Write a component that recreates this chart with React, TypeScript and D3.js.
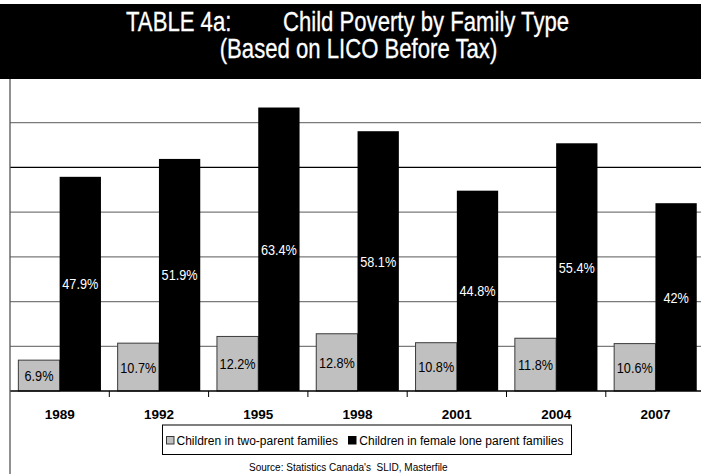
import React from "react";
import * as d3 from "d3";

const years = ["1989", "1992", "1995", "1998", "2001", "2004", "2007"];
const twoParent = [6.9, 10.7, 12.2, 12.8, 10.8, 11.8, 10.6];
const loneParent = [47.9, 51.9, 63.4, 58.1, 44.8, 55.4, 42];
const loneLabels = ["47.9%", "51.9%", "63.4%", "58.1%", "44.8%", "55.4%", "42%"];
const twoLabels = ["6.9%", "10.7%", "12.2%", "12.8%", "10.8%", "11.8%", "10.6%"];
const gridTicks = [10, 20, 30, 40, 50, 60, 70];
const seriesNames = ["Children in two-parent families", "Children in female lone parent families"];

const W = 701;
const H = 474;
const arial = "'Liberation Sans', Arial, sans-serif";
const SQ = 0.82;

function Narrow(props: {
  x: number;
  y: number;
  size: number;
  fill: string;
  anchor?: "start" | "middle" | "end";
  bold?: number;
  children: React.ReactNode;
}) {
  return (
    <g transform={`translate(${props.x},${props.y}) scale(${SQ},1)`}>
      <text
        x={0}
        y={0}
        textAnchor={props.anchor || "start"}
        fontFamily={arial}
        fontSize={props.size}
        fill={props.fill}
        stroke={props.bold ? props.fill : "none"}
        strokeWidth={props.bold || 0}
      >
        {props.children}
      </text>
    </g>
  );
}

export default function App() {
  const band = 99.3;
  const x = d3
    .scaleBand<string>()
    .domain(years)
    .range([10, 10 + band * years.length])
    .paddingInner(0)
    .paddingOuter(0);
  const y = d3.scaleLinear().domain([0, 70]).range([391, 78]);
  const barW = 41.3;
  const off = (band - 2 * barW) / 2;

  return (
    <svg
      width={W}
      height={H}
      style={{ position: "absolute", left: 0, top: 0, background: "#fff" }}
    >
      {/* gridlines */}
      {gridTicks.map((t) => (
        <line
          key={t}
          x1={10}
          x2={W}
          y1={y(t)}
          y2={y(t)}
          stroke={t === 50 ? "#000" : "#7a7a7a"}
          strokeWidth={1.3}
        />
      ))}
      {/* bars */}
      {years.map((yr, i) => {
        const x0 = (x(yr) as number) + off;
        return (
          <g key={yr}>
            <rect
              x={x0}
              y={y(twoParent[i])}
              width={barW}
              height={y(0) - y(twoParent[i])}
              fill="#c0c0c0"
              stroke="#3a3a3a"
              strokeWidth={1}
            />
            <rect
              x={x0 + barW}
              y={y(loneParent[i])}
              width={barW}
              height={y(0) - y(loneParent[i])}
              fill="#000"
            />
            <Narrow
              x={x0 + barW / 2}
              y={(y(twoParent[i]) + y(0)) / 2 + 5.5}
              anchor="middle"
              size={15.5}
              fill="#000"
            >
              {twoLabels[i]}
            </Narrow>
            <Narrow
              x={x0 + barW * 1.5}
              y={(y(loneParent[i]) + y(0)) / 2 + 5.5}
              anchor="middle"
              size={15.5}
              fill="#fff"
            >
              {loneLabels[i]}
            </Narrow>
            <text
              x={(x(yr) as number) + band / 2}
              y={419}
              textAnchor="middle"
              fontFamily={arial}
              fontWeight="bold"
              fontSize={13.5}
              fill="#000"
            >
              {yr}
            </text>
          </g>
        );
      })}
      {/* baseline and ticks */}
      <line x1={10} x2={W} y1={y(0)} y2={y(0)} stroke="#000" strokeWidth={1.3} />
      {years.slice(1).map((yr) => (
        <line
          key={"t" + yr}
          x1={x(yr) as number}
          x2={x(yr) as number}
          y1={y(0)}
          y2={y(0) + 6}
          stroke="#000"
          strokeWidth={1}
        />
      ))}
      {/* left frame line */}
      <line x1={10} x2={10} y1={78} y2={H} stroke="#555" strokeWidth={1.3} />

      {/* title */}
      <rect x={0} y={4} width={W} height={75} fill="#000" />
      <Narrow x={126} y={31} size={27} fill="#fff" bold={0.3}>
        TABLE 4a:
      </Narrow>
      <Narrow x={283} y={31} size={27} fill="#fff" bold={0.3}>
        Child Poverty by Family Type
      </Narrow>
      <Narrow x={358.5} y={57.5} anchor="middle" size={27} fill="#fff" bold={0.3}>
        (Based on LICO Before Tax)
      </Narrow>

      {/* legend */}
      <rect x={162.5} y={425} width={409} height={29.5} fill="#fff" stroke="#000" strokeWidth={1} />
      <rect x={166.5} y={436.5} width={7.5} height={7.5} fill="#c0c0c0" stroke="#3a3a3a" strokeWidth={1} />
      <text x={176.5} y={444.5} fontFamily={arial} fontSize={12} fill="#000">
        {seriesNames[0]}
      </text>
      <rect x={348} y={436} width={8.5} height={8.5} fill="#000" />
      <text x={359.3} y={444.5} fontFamily={arial} fontSize={12} fill="#000">
        {seriesNames[1]}
      </text>

      {/* source */}
      <text
        x={249}
        y={471}
        fontFamily={arial}
        fontSize={10}
        fill="#000"
        style={{ whiteSpace: "pre" }}
      >
        {"Source: Statistics Canada's  SLID, Masterfile"}
      </text>
    </svg>
  );
}
